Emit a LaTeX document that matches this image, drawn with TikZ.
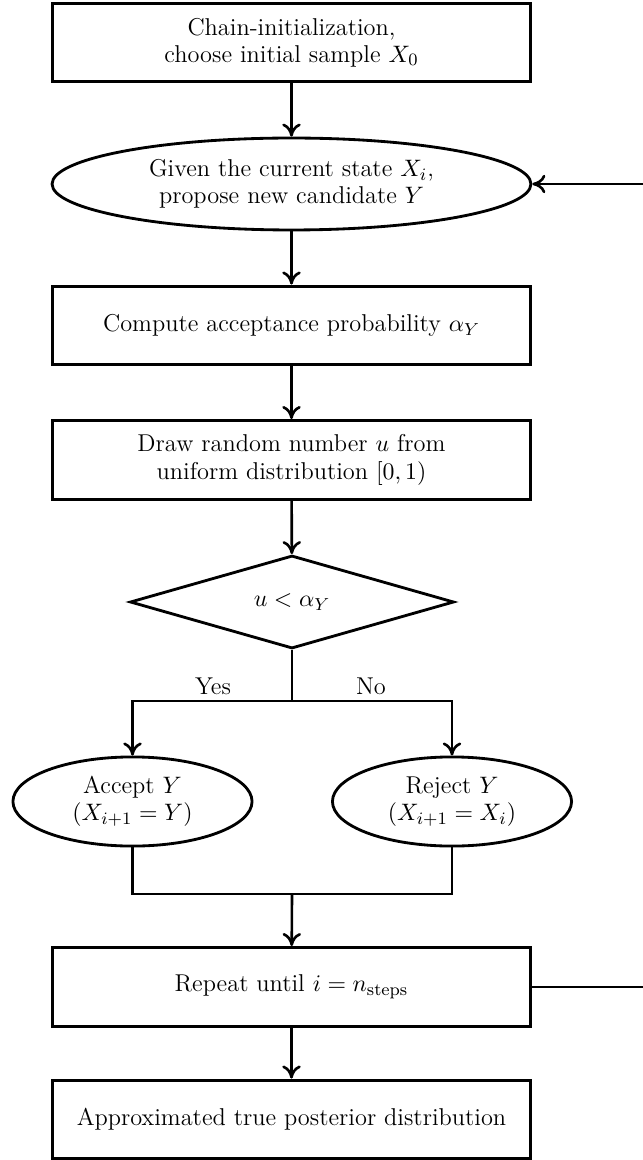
\documentclass[tikz,border=0pt]{standalone}
\usetikzlibrary{shapes.geometric,arrows.meta}
\begin{document}
\begin{tikzpicture}[x=0.46pt,y=-0.46pt,
  every node/.style={font=\fontsize{11.2}{12.6}\selectfont},
  boxnode/.style={draw,line width=1.4pt,rectangle,minimum width=220.3pt,minimum height=36.3pt,inner sep=0pt,align=center},
  bigell/.style={draw,line width=1.3pt,ellipse,minimum width=220.3pt,minimum height=42.3pt,inner sep=0pt,align=center},
  smallell/.style={draw,line width=1.3pt,ellipse,minimum width=110pt,minimum height=41pt,inner sep=0pt,align=center},
  decide/.style={draw,line width=1.3pt,diamond,minimum width=149pt,minimum height=41.4pt,inner sep=0pt,align=center},
  conn/.style={line width=1.2pt},
  arr/.style={conn,-{To[length=6pt,width=8.5pt]}},
  lbl/.style={inner sep=1pt}
]
\useasboundingbox (0,0) rectangle (642,1160);

\node[boxnode] (init) at (291.5,42.5) {Chain-initialization,\\ choose initial sample $X_0$};
\node[bigell] (prop) at (291.5,184) {Given the current state $X_i$,\\ propose new candidate $Y$};
\node[boxnode] (comp) at (291.5,325.5) {Compute acceptance probability $\alpha_Y$};
\node[boxnode] (draw) at (291.5,460) {Draw random number $u$ from\\ uniform distribution $[0,1)$};
\node[decide] (dec) at (292,602) {$u<\alpha_Y$};
\node[smallell] (acc) at (132.5,801.5) {Accept $Y$\\ $(X_{i+1}=Y)$};
\node[smallell] (rej) at (452,801.5) {Reject $Y$\\ $(X_{i+1}=X_i)$};
\node[boxnode] (rep) at (291.5,987) {Repeat until $i=n_{\mathrm{steps}}$};
\node[boxnode] (fin) at (291.5,1119.5) {Approximated true posterior distribution};

\coordinate (split) at (292,701);
\coordinate (merge) at (292,894);
\coordinate (back) at (680,987);

\node[lbl] (yes) at (213,686) {Yes};
\node[lbl] (no) at (371,686) {No};

\draw[arr] (init) -- (prop);
\draw[arr] (prop) -- (comp);
\draw[arr] (comp) -- (draw);
\draw[arr] (draw) -- (dec);
\draw[conn] (dec.south) -- (split);
\draw[arr] (split) -| (acc.north);
\draw[arr] (split) -| (rej.north);
\draw[conn] (acc.south) |- (merge);
\draw[conn] (rej.south) |- (merge);
\draw[arr] (merge) -- (rep);
\draw[arr] (rep) -- (fin);
\draw[arr] (rep.east) -- (back) |- (prop.east);
\end{tikzpicture}
\end{document}
